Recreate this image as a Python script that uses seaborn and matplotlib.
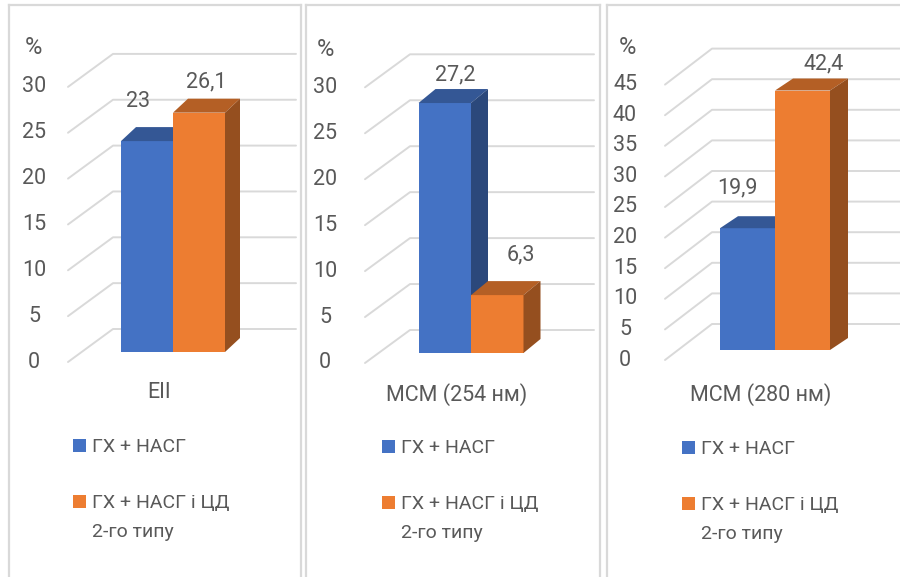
import matplotlib
matplotlib.use("Agg")
import matplotlib.pyplot as plt
import numpy as np
import pandas as pd
import seaborn as sns
from matplotlib.patches import Polygon, Rectangle

# ---- data -------------------------------------------------------------
categories = ["ЕІІ", "МСМ (254 нм)", "МСМ (280 нм)"]
series = ["ГХ + НАСГ", "ГХ + НАСГ і ЦД\n2-го типу"]
values_gx_nasg = [23.0, 27.2, 19.9]
values_gx_nasg_cd2 = [26.1, 6.3, 42.4]
axis_max = [30, 30, 45]
axis_step = 5

# ---- style ------------------------------------------------------------
sns.set_theme(style="white")
plt.rcParams["font.family"] = ["Roboto", "DejaVu Sans"]
TEXT = "#595959"
GRID = "#D9D9D9"
palette = ["#4472C4", "#ED7D31"]
FS_TICK = 15.5
FS_VALUE = 15.5
FS_CAT = 15.5
FS_PCT = 17
FS_LEG = 14

W, H = 900, 577
TOP = 5

# per-panel geometry in figure pixels
layout = [
    dict(box=(9, 301), seam=173, bar_px=52, base=352, front=362, back=329,
         scale=9.17, gx=(68, 113, 296), tick_x=34, pct=(33, 48), cat_y=393,
         depth=(15, 14), leg_x=73, leg_y=445,
         nudge=[(-16, 40), (0, 31)]),
    dict(box=(306, 600), seam=471, bar_px=52.5, base=353, front=363, back=330,
         scale=9.19, gx=(365, 410, 594), tick_x=325, pct=(325, 50), cat_y=395,
         depth=(17, 14), leg_x=382, leg_y=446,
         nudge=[(2, 28), (15, 40)]),
    dict(box=(607, 905), seam=775, bar_px=55, base=350, front=360, back=324,
         scale=6.12, gx=(665, 712, 905), tick_x=625, pct=(627, 47), cat_y=395,
         depth=(18, 12), leg_x=682, leg_y=447,
         nudge=[(-19, 40), (12, 27)]),
]

df = pd.DataFrame({
    "category": np.repeat(categories, 2),
    "series": series * len(categories),
    "value": np.ravel(np.column_stack([values_gx_nasg, values_gx_nasg_cd2])),
})


def shade(hex_color, k):
    rgb = np.array(matplotlib.colors.to_rgb(hex_color))
    return tuple(rgb * k)


fig = plt.figure(figsize=(W / 100, H / 100), dpi=100)

for cat, ymax, g in zip(categories, axis_max, layout):
    left, right = g["box"]
    ax = fig.add_axes([left / W, 0, (right - left) / W, (H - TOP) / H])
    sub = df[df["category"] == cat]
    sns.barplot(data=sub, x="category", y="value", hue="series",
                hue_order=series, palette=palette, saturation=1, width=0.8,
                linewidth=0, legend=False, ax=ax)

    unit = g["bar_px"] / 0.4
    scale = g["scale"]
    seam, base = g["seam"], g["base"]

    def px2x(p):
        return (p - seam) / unit

    def py2y(p):
        return (base - p) / scale

    ax.set_xlim(px2x(left), px2x(right))
    ax.set_ylim(py2y(H), py2y(TOP))
    ax.set_xticks([])
    ax.set_yticks([])
    ax.set_xlabel("")
    ax.set_ylabel("")
    for side, sp in ax.spines.items():
        sp.set_color(GRID)
        sp.set_linewidth(1.6)
        sp.set_visible(side != "bottom")

    # floor / back-wall gridlines with their value labels
    front_off = (base - g["front"]) / scale
    back_off = (base - g["back"]) / scale
    gx0, gx1, gx2 = (px2x(p) for p in g["gx"])
    for v in range(0, ymax + 1, axis_step):
        ax.plot([gx0, gx1, gx2], [v + front_off, v + back_off, v + back_off],
                color=GRID, lw=1.4, zorder=1, solid_capstyle="round")
        ax.text(px2x(g["tick_x"]), v + front_off, str(v), ha="center",
                va="center", fontsize=FS_TICK, color=TEXT)
    ax.text(px2x(g["pct"][0]), py2y(g["pct"][1]), "%", ha="center",
            va="center", fontsize=FS_PCT, color=TEXT)

    # extrude each bar into a box: top and right faces
    ddx = g["depth"][0] / unit
    ddy = g["depth"][1] / scale
    for i, (patch, col) in enumerate(zip(ax.patches, palette)):
        z = 3 + i
        patch.set_zorder(z)
        x0, w, h = patch.get_x(), patch.get_width(), patch.get_height()
        top = Polygon([(x0, h), (x0 + w, h), (x0 + w + ddx, h + ddy),
                       (x0 + ddx, h + ddy)], closed=True,
                      facecolor=shade(col, 0.76), edgecolor="none", zorder=z)
        side = Polygon([(x0 + w, 0), (x0 + w, h), (x0 + w + ddx, h + ddy),
                        (x0 + w + ddx, ddy)], closed=True,
                       facecolor=shade(col, 0.63), edgecolor="none", zorder=z)
        ax.add_patch(top)
        ax.add_patch(side)
        ndx, ndy = g["nudge"][i]
        label = f"{h:g}".replace(".", ",")
        ax.annotate(label, xy=(x0 + w / 2 + ddx / 2, h),
                    xytext=(ndx * 0.72, ndy * 0.72), textcoords="offset points",
                    ha="center", va="center", fontsize=FS_VALUE, color=TEXT)

    # category name under the floor
    ax.text(px2x(seam - 14), py2y(g["cat_y"]), cat, ha="center", va="center",
            fontsize=FS_CAT, color=TEXT)

    # legend
    ly = g["leg_y"]
    for j, (name, col) in enumerate(zip(series, palette)):
        row_y = ly + j * 56
        ax.add_patch(Rectangle((px2x(g["leg_x"]), py2y(row_y + 6.5)),
                               13 / unit, 13 / scale, facecolor=col,
                               edgecolor="none"))
        for k, line in enumerate(name.split("\n")):
            ax.text(px2x(g["leg_x"] + 19), py2y(row_y + k * 29), line,
                    ha="left", va="center_baseline", fontsize=FS_LEG,
                    color=TEXT)

fig.savefig("out.png", dpi=100, facecolor="white")
